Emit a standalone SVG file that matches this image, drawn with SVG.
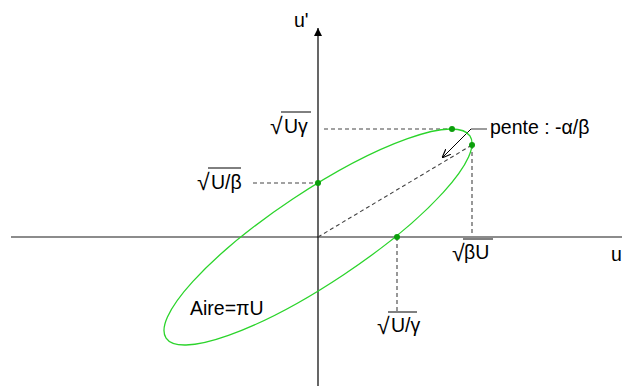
<svg xmlns="http://www.w3.org/2000/svg" width="622" height="386" viewBox="0 0 622 386">
<style>
text{font-family:"Liberation Sans",Arial,sans-serif;font-size:19.5px;fill:#000}
.rad{font-size:23px}
.dash{stroke:#444;stroke-width:1.1;stroke-dasharray:4,3;fill:none}
.ov{stroke:#000;stroke-width:1}
.dot{fill:#0b9e0b}
</style>
<defs>
<marker id="ah" viewBox="0 0 10 10" refX="10" refY="5" markerWidth="8" markerHeight="8" orient="auto" markerUnits="userSpaceOnUse">
<path d="M0,0 L10,5 L0,10 z" fill="#000"/>
</marker>
<marker id="av" viewBox="0 0 10 10" refX="10" refY="5" markerWidth="9" markerHeight="9" orient="auto" markerUnits="userSpaceOnUse">
<path d="M0,1 L10,5 L0,9" fill="none" stroke="#000" stroke-width="1.3"/>
</marker>
</defs>
<g id="axes">
<line x1="11" y1="237" x2="622" y2="237" stroke="#666" stroke-width="1.3"/>
<line x1="318" y1="386" x2="318" y2="28" stroke="#000" stroke-width="1.2" marker-end="url(#ah)"/>
<text x="294" y="27">u'</text>
<text x="611" y="261">u</text>
</g>
<g id="connectors">
<line class="dash" x1="324" y1="129" x2="452" y2="129"/>
<line class="dash" x1="253" y1="183" x2="318" y2="183"/>
<line class="dash" x1="472" y1="145" x2="472" y2="236"/>
<line class="dash" x1="397" y1="237" x2="397" y2="311"/>
<line class="dash" x1="318" y1="237" x2="472" y2="145"/>
<line x1="471" y1="129" x2="442" y2="158" stroke="#000" stroke-width="1" marker-end="url(#av)"/>
<line x1="471" y1="129" x2="487" y2="129" stroke="#666" stroke-width="1.3"/>
</g>
<g id="ellipse">
<ellipse cx="318" cy="237" rx="182.5" ry="45.6" transform="rotate(-33.65 318 237)" fill="none" stroke="#2bd42b" stroke-width="1.3"/>
<circle class="dot" cx="452" cy="129" r="3"/>
<circle class="dot" cx="472" cy="145" r="3"/>
<circle class="dot" cx="318" cy="183" r="3"/>
<circle class="dot" cx="397" cy="237" r="3"/>
</g>
<g id="label-pente">
<text x="490" y="134">pente : -α/β</text>
</g>
<g id="label-Aire">
<text x="190" y="315">Aire=πU</text>
</g>
<g id="label-sqrtUgamma">
<text class="rad" x="270" y="134">√</text>
<line class="ov" x1="281" y1="112" x2="311" y2="112"/>
<text x="284" y="133">Uγ</text>
</g>
<g id="label-sqrtUbeta">
<text class="rad" x="197" y="190">√</text>
<line class="ov" x1="208" y1="168" x2="241" y2="168"/>
<text x="211" y="189">U/β</text>
</g>
<g id="label-sqrtbetaU">
<text class="rad" x="452" y="261">√</text>
<line class="ov" x1="463" y1="239" x2="493" y2="239"/>
<text x="464" y="259">βU</text>
</g>
<g id="label-sqrtUgamma2">
<text class="rad" x="377" y="334">√</text>
<line class="ov" x1="388" y1="312" x2="417" y2="312"/>
<text x="391" y="332">U/γ</text>
</g>
</svg>
